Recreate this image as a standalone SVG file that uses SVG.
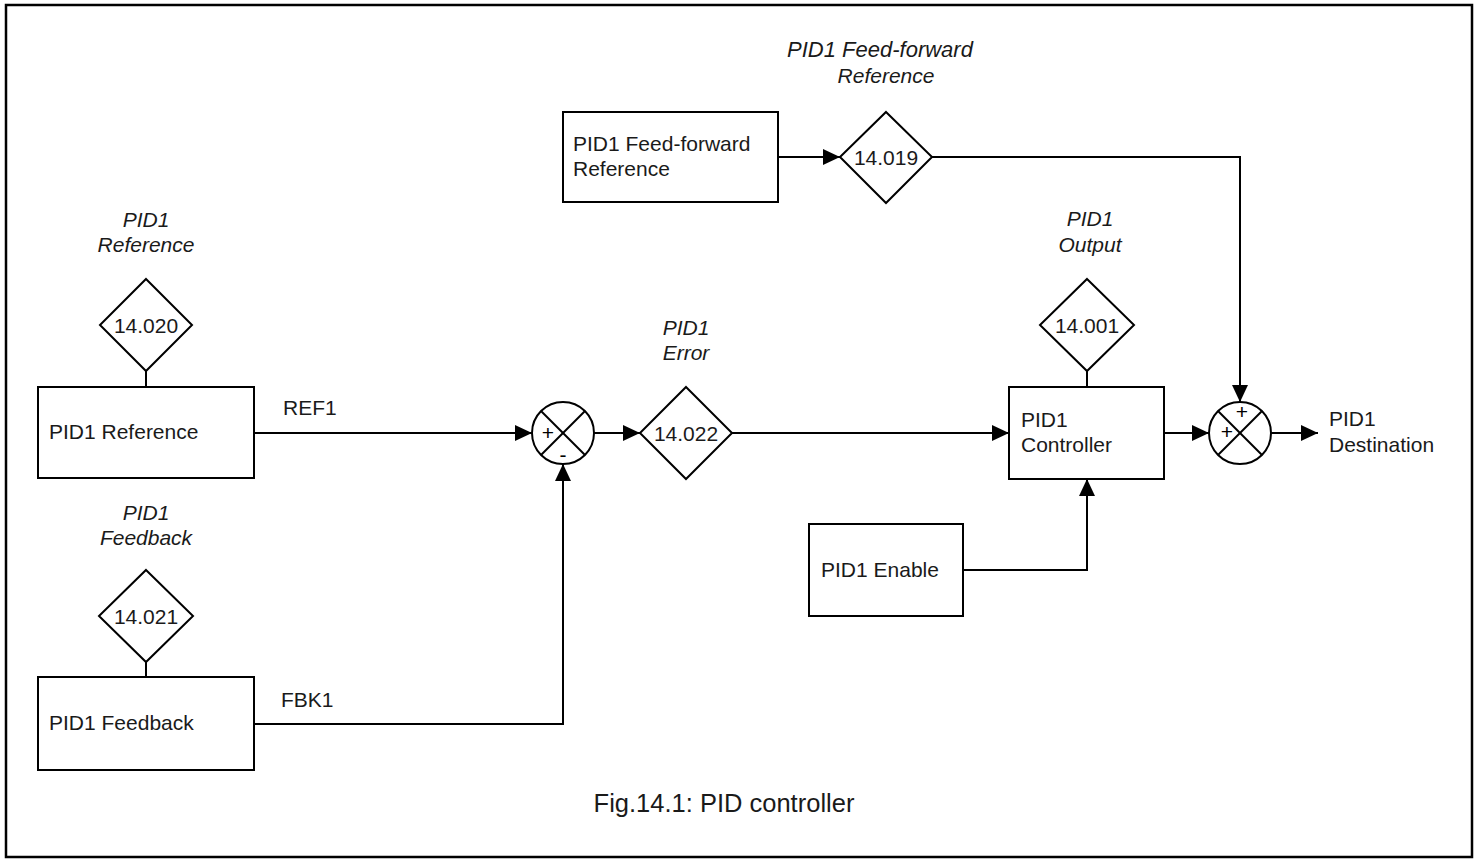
<svg xmlns="http://www.w3.org/2000/svg" width="1478" height="862" viewBox="0 0 1478 862">
<style>
.box{fill:#fff;stroke:#000;stroke-width:2}
.dia{fill:#fff;stroke:#000;stroke-width:2}
.ln{fill:none;stroke:#000;stroke-width:2}
.t{font-family:"Liberation Sans",Arial,sans-serif;font-size:21px;fill:#1a1a1a}
.i{font-style:italic;text-anchor:middle}
.m{text-anchor:middle}
.s{font-family:"Liberation Sans",Arial,sans-serif;font-size:21px;fill:#000;text-anchor:middle}
</style>
<defs>
<marker id="ah" markerUnits="userSpaceOnUse" markerWidth="18" markerHeight="16" refX="17" refY="8" orient="auto">
<path d="M0,0 L17,8 L0,16 Z" fill="#000"/>
</marker>
</defs>
<rect x="0" y="0" width="1478" height="862" fill="#fff"/>
<rect x="6" y="5" width="1466" height="852" fill="none" stroke="#000" stroke-width="2.5"/>

<g id="connectors">
<line class="ln" x1="146" y1="371" x2="146" y2="387"/>
<line class="ln" x1="146" y1="662" x2="146" y2="677"/>
<line class="ln" x1="1087" y1="371" x2="1087" y2="387"/>
<line class="ln" x1="254" y1="433" x2="532" y2="433" marker-end="url(#ah)"/>
<polyline class="ln" points="254,724 563,724 563,464" marker-end="url(#ah)"/>
<line class="ln" x1="594" y1="433" x2="640" y2="433" marker-end="url(#ah)"/>
<line class="ln" x1="732" y1="433" x2="1009" y2="433" marker-end="url(#ah)"/>
<polyline class="ln" points="963,570 1087,570 1087,479" marker-end="url(#ah)"/>
<line class="ln" x1="1164" y1="433" x2="1209" y2="433" marker-end="url(#ah)"/>
<line class="ln" x1="1271" y1="433" x2="1318" y2="433" marker-end="url(#ah)"/>
<line class="ln" x1="778" y1="157" x2="840" y2="157" marker-end="url(#ah)"/>
<polyline class="ln" points="932,157 1240,157 1240,402" marker-end="url(#ah)"/>
</g>

<g id="ffref-box">
<rect class="box" x="563" y="112" width="215" height="90"/>
<text class="t" x="573" y="151">PID1 Feed-forward</text>
<text class="t" x="573" y="176">Reference</text>
</g>
<g id="ffref-label">
<text class="t i" x="880" y="57" style="font-size:22px">PID1 Feed-forward</text>
<text class="t i" x="886" y="83">Reference</text>
</g>
<g id="p14019">
<polygon class="dia" points="886,112 932,157 886,203 840,157"/>
<text class="t m" x="886" y="165">14.019</text>
</g>

<g id="ref-label">
<text class="t i" x="146" y="227">PID1</text>
<text class="t i" x="146" y="252">Reference</text>
</g>
<g id="p14020">
<polygon class="dia" points="146,279 192,325 146,371 100,325"/>
<text class="t m" x="146" y="333">14.020</text>
</g>
<g id="ref-box">
<rect class="box" x="38" y="387" width="216" height="91"/>
<text class="t" x="49" y="439">PID1 Reference</text>
</g>
<text class="t" x="283" y="415">REF1</text>

<g id="fbk-label">
<text class="t i" x="146" y="520">PID1</text>
<text class="t i" x="146" y="545">Feedback</text>
</g>
<g id="p14021">
<polygon class="dia" points="146,570 193,616 146,662 99,616"/>
<text class="t m" x="146" y="624">14.021</text>
</g>
<g id="fbk-box">
<rect class="box" x="38" y="677" width="216" height="93"/>
<text class="t" x="49" y="730">PID1 Feedback</text>
</g>
<text class="t" x="281" y="707">FBK1</text>

<g id="sum1">
<circle cx="563" cy="433" r="31" fill="#fff" stroke="#000" stroke-width="2"/>
<line class="ln" x1="541" y1="411" x2="585" y2="455"/>
<line class="ln" x1="585" y1="411" x2="541" y2="455"/>
<text class="s" x="548" y="440">+</text>
<text class="s" x="563" y="462">-</text>
</g>

<g id="err-label">
<text class="t i" x="686" y="335">PID1</text>
<text class="t i" x="686" y="360">Error</text>
</g>
<g id="p14022">
<polygon class="dia" points="686,387 732,433 686,479 640,433"/>
<text class="t m" x="686" y="441">14.022</text>
</g>

<g id="out-label">
<text class="t i" x="1090" y="226">PID1</text>
<text class="t i" x="1090" y="252">Output</text>
</g>
<g id="p14001">
<polygon class="dia" points="1087,279 1134,325 1087,371 1040,325"/>
<text class="t m" x="1087" y="333">14.001</text>
</g>
<g id="ctrl-box">
<rect class="box" x="1009" y="387" width="155" height="92"/>
<text class="t" x="1021" y="427">PID1</text>
<text class="t" x="1021" y="452">Controller</text>
</g>

<g id="enable-box">
<rect class="box" x="809" y="524" width="154" height="92"/>
<text class="t" x="821" y="577">PID1 Enable</text>
</g>

<g id="sum2">
<circle cx="1240" cy="433" r="31" fill="#fff" stroke="#000" stroke-width="2"/>
<line class="ln" x1="1218" y1="411" x2="1262" y2="455"/>
<line class="ln" x1="1262" y1="411" x2="1218" y2="455"/>
<text class="s" x="1242" y="419">+</text>
<text class="s" x="1227" y="439">+</text>
</g>

<g id="dest">
<text class="t" x="1329" y="426">PID1</text>
<text class="t" x="1329" y="452">Destination</text>
</g>

<text class="t m" x="724" y="812" style="font-size:25.5px">Fig.14.1: PID controller</text>
</svg>
